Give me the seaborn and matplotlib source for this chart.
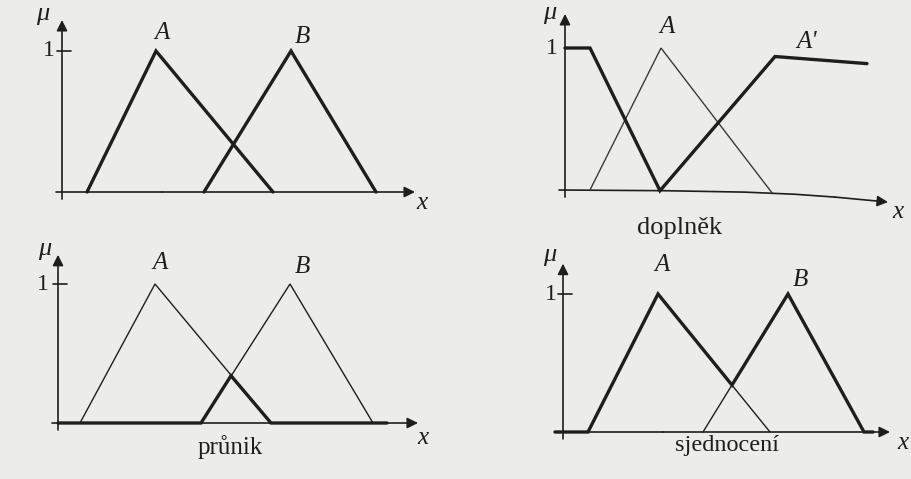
import numpy as np
import pandas as pd
import matplotlib
matplotlib.use('Agg')
import matplotlib.pyplot as plt
import seaborn as sns

# values (x in arbitrary units, mu in 0..1)
# panel 1: A and B
p1_a_x = [2.5, 9.4, 21.1]
p1_a_mu = [0, 1, 0]
p1_b_x = [14.2, 22.9, 31.4]
p1_b_mu = [0, 1, 0]

# panel 2: A and its complement A'
p2_a_x = [2.5, 9.6, 20.7]
p2_a_mu = [0, 1, -0.02]
p2_comp_x = [0, 2.5, 9.5, 21.0, 30.2]
p2_comp_mu = [1, 1, -0.005, 0.94, 0.89]

# panel 3: A, B and intersection
p3_a_x = [2.2, 9.7, 21.3]
p3_a_mu = [0, 1, 0]
p3_b_x = [14.3, 23.2, 31.5]
p3_b_mu = [0, 1, 0]
p3_cut_x = [0, 14.3, 17.3, 21.3, 32.9]
p3_cut_mu = [0, 0, 0.34, 0, 0]

# panel 4: A, B and union
p4_a_x = [2.5, 9.5, 20.7]
p4_a_mu = [0, 1, 0]
p4_b_x = [14.0, 22.5, 30.1]
p4_b_mu = [0, 1, 0]
p4_uni_x = [-0.8, 2.5, 9.5, 16.9, 22.5, 30.1, 31.0]
p4_uni_mu = [0, 0, 1, 0.34, 1, 0, 0]

captions = ['', 'doplněk', 'průnik', 'sjednocení']

W, H = 911, 479
ink = '#1e1e1e'
thin_ink = '#3a3a3a'
bg = '#ececea'

sns.set_theme(style='white')
plt.rcParams['font.family'] = ['Liberation Serif', 'DejaVu Serif']

fig = plt.figure(figsize=(W / 100, H / 100), dpi=100, facecolor=bg)


def panel_ax(box, origin, hy):
    l, t, r, b = box
    ox, oy = origin
    ax = fig.add_axes([l / W, 1 - b / H, (r - l) / W, (b - t) / H])
    ax.set_xlim((l - ox) / 10, (r - ox) / 10)
    ax.set_ylim((oy - b) / hy, (oy - t) / hy)
    ax.axis('off')
    ax.patch.set_alpha(0)
    return ax


ARROW = dict(arrowstyle='-|>', color=ink, lw=1.2, mutation_scale=16,
             shrinkA=0, shrinkB=0)


def draw_axes(ax, x_path, y_top, tick=True):
    # x axis may bend slightly (photo of a page), arrow on the last piece
    xs, ys = x_path
    ax.plot(xs[:-1], ys[:-1], color=ink, lw=1.2)
    ax.annotate('', xy=(xs[-1], ys[-1]), xytext=(xs[-2], ys[-2]), arrowprops=ARROW)
    ax.annotate('', xy=(0, y_top), xytext=(0, -0.05), arrowprops=ARROW)
    if tick:
        ax.plot([-0.5, 0.9], [1, 1], color=ink, lw=1.2)


def curve(ax, x, mu, lw, color=ink):
    sns.lineplot(x=x, y=mu, ax=ax, sort=False, estimator=None,
                 color=color, lw=lw, solid_joinstyle='miter')


def lab(ax, x, y, s, italic=True, size=18):
    ax.text(x, y, s, ha='center', va='center', fontsize=size,
            style='italic' if italic else 'normal', color=ink)


thick, thin = 2.4, 1.0
mu_size, one_size = 19, 17

# panel 1
ax1 = panel_ax((0, 0, 455, 240), (62, 192), 141)
draw_axes(ax1, ([-0.6, 10, 35.3], [0, 0, 0]), 1.22)
curve(ax1, p1_a_x, p1_a_mu, thick)
curve(ax1, p1_b_x, p1_b_mu, thick)
lab(ax1, -1.9, 1.26, 'μ', size=mu_size)
lab(ax1, -1.3, 1.0, '1', italic=False, size=one_size)
lab(ax1, 10.0, 1.13, 'A')
lab(ax1, 24.0, 1.10, 'B')
lab(ax1, 36.0, -0.08, 'x')

# panel 2
ax2 = panel_ax((455, 0, 911, 240), (565, 190), 142)
draw_axes(ax2, ([-0.6, 10, 18, 23, 27, 32.3],
                [0, -0.005, -0.015, -0.03, -0.05, -0.085]), 1.24, tick=False)
curve(ax2, p2_a_x, p2_a_mu, thin, thin_ink)
curve(ax2, p2_comp_x, p2_comp_mu, thick)
lab(ax2, -1.5, 1.25, 'μ', size=mu_size)
lab(ax2, -1.3, 1.0, '1', italic=False, size=one_size)
lab(ax2, 10.2, 1.15, 'A')
lab(ax2, 24.2, 1.04, "A'")
lab(ax2, 33.3, -0.155, 'x')
lab(ax2, 11.5, -0.27, captions[1], italic=False, size=19)

# panel 3
ax3 = panel_ax((0, 240, 455, 479), (58, 423), 139)
draw_axes(ax3, ([-0.6, 10, 36.0], [0, 0, 0]), 1.21)
curve(ax3, p3_a_x, p3_a_mu, thin)
curve(ax3, p3_b_x, p3_b_mu, thin)
curve(ax3, p3_cut_x, p3_cut_mu, thick)
lab(ax3, -1.3, 1.25, 'μ', size=mu_size)
lab(ax3, -1.5, 1.0, '1', italic=False, size=one_size)
lab(ax3, 10.2, 1.15, 'A')
lab(ax3, 24.4, 1.12, 'B')
lab(ax3, 36.5, -0.11, 'x')
lab(ax3, 17.2, -0.17, captions[2], italic=False, size=18)

# panel 4
ax4 = panel_ax((455, 240, 911, 479), (563, 432), 138)
draw_axes(ax4, ([-0.6, 10, 32.7], [0, 0, 0]), 1.22)
curve(ax4, p4_a_x, p4_a_mu, thin)
curve(ax4, p4_b_x, p4_b_mu, thin)
curve(ax4, p4_uni_x, p4_uni_mu, thick)
lab(ax4, -1.3, 1.28, 'μ', size=mu_size)
lab(ax4, -1.2, 1.0, '1', italic=False, size=one_size)
lab(ax4, 9.9, 1.21, 'A')
lab(ax4, 23.7, 1.10, 'B')
lab(ax4, 34.0, -0.08, 'x')
lab(ax4, 16.4, -0.10, captions[3], italic=False, size=17.5)

fig.savefig('out.png', dpi=100, facecolor=bg)
